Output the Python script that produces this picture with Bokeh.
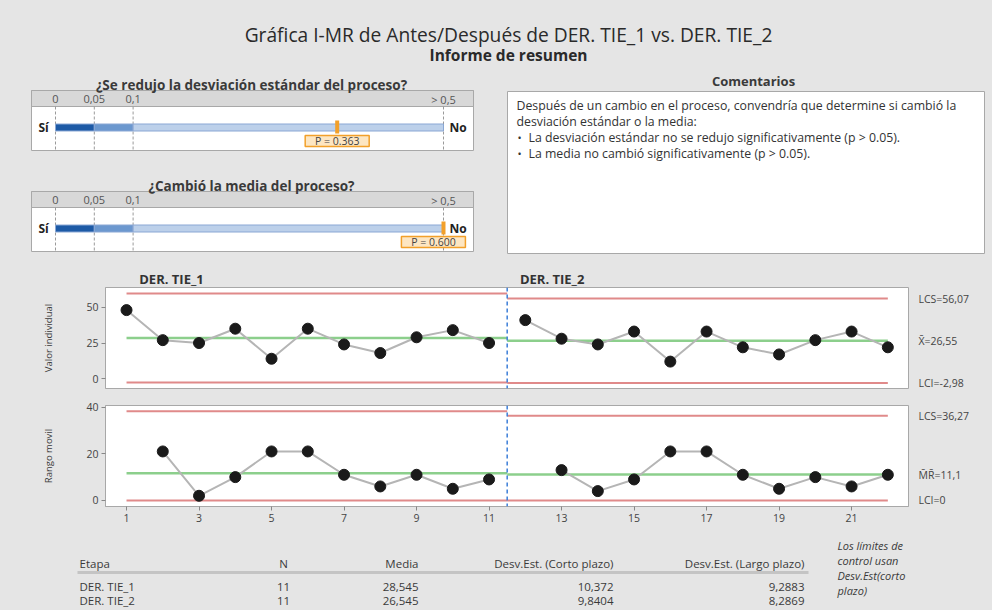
import numpy as np
from bokeh.plotting import figure
from bokeh.models import Range1d, Span, FixedTicker, LinearAxis
from bokeh.layouts import column
from bokeh.embed import file_html
from bokeh.resources import INLINE
from bokeh.core.properties import value

# ---------------- data ----------------
stage_names = ["DER. TIE_1", "DER. TIE_2"]
tie1_values = [48, 27, 25, 35, 14, 35, 24, 18, 29, 34, 25]
tie2_values = [41, 28, 24, 33, 12, 33, 22, 17, 27, 33, 22]
table_n = [11, 11]
table_mean = ["28,545", "26,545"]
table_sd_short = ["10,372", "9,8404"]
table_sd_long = ["9,2883", "8,2869"]
p_std = 0.363
p_mean = 0.600
p_ticks = [0, 0.05, 0.1, 0.5]
p_tick_labels = ["0", "0,05", "0,1", "> 0,5"]
x_ticks = [1, 3, 5, 7, 9, 11, 13, 15, 17, 19, 21]
i_yticks = [0, 25, 50]
mr_yticks = [0, 20, 40]
i_limit_labels = ["LCS=56,07", "X\u0304=26,55", "LCI=-2,98"]
mr_limit_labels = ["LCS=36,27", "M\u0304R\u0304=11,1", "LCI=0"]
comment_lines = [
    "Después de un cambio en el proceso, convendría que determine si cambió la",
    "desviación estándar o la media:",
    "La desviación estándar no se redujo significativamente (p > 0.05).",
    "La media no cambió significativamente (p > 0.05).",
]

# ---------------- style ----------------
W = 992
BG = "#e5e5e5"
FONT = "Open Sans"
TXT = "#3a3a3a"
BOX = "#a8a8a8"
RED = "#e08a8a"
GREEN = "#8ccf8c"
CONN = "#b5b5b5"
BLUE_DIV = "#3b7dd8"
ORANGE = "#f2a02a"
F = value(FONT)


def base_fig(height, x_range, y_range, **kw):
    f = figure(width=W, height=height, x_range=x_range, y_range=y_range,
               output_backend="svg", toolbar_location=None, **kw)
    f.background_fill_color = BG
    f.border_fill_color = BG
    f.outline_line_color = None
    f.grid.grid_line_color = None
    return f


# ---------------- top section (pixel layout) ----------------
TOP_H = 262
top = base_fig(TOP_H, Range1d(0, W), Range1d(TOP_H, 0), x_axis_location=None,
               y_axis_location=None, min_border=0)
P0, PX = 55, 776.0  # pixel of p=0, pixels per unit p
top.extra_x_ranges = {"p": Range1d(-P0 / PX, (W - P0) / PX)}

top.text(x=[508], y=[34], text=["Gráfica I-MR de Antes/Después de DER. TIE_1 vs. DER. TIE_2"],
         text_font=F, text_font_size="19.2px", text_align="center", text_baseline="middle",
         text_color="#2a2a2a")
top.text(x=[508], y=[54], text=["Informe de resumen"], text_font=F, text_font_size="15.5px",
         text_font_style="bold", text_align="center", text_baseline="middle", text_color="#2a2a2a")


def pvalue_panel(T, title, p):
    top.quad(left=[31], right=[473], top=[T + 5], bottom=[T + 65], fill_color="white",
             line_color=BOX, line_width=1)
    top.quad(left=[31], right=[473], top=[T + 5], bottom=[T + 21], fill_color="#d8d8d8",
             line_color=BOX, line_width=1)
    top.text(x=[251], y=[T - 1], text=[title], text_font=F, text_font_size="13.5px",
             text_font_style="bold", text_align="center", text_baseline="middle", text_color=TXT)
    top.segment(x0=p_ticks, x1=p_ticks, y0=[T + 21] * 4, y1=[T + 65] * 4, x_range_name="p",
                line_color="#9a9a9a", line_dash="3 2", line_width=1)
    top.text(x=p_ticks, y=[T + 13.5] * 4, text=p_tick_labels, x_range_name="p", text_font=F,
             text_font_size="11px", text_align="center", text_baseline="middle", text_color="#555555")
    top.quad(left=p_ticks[:-1], right=p_ticks[1:], top=[T + 38.5] * 3, bottom=[T + 45.5] * 3,
             x_range_name="p", fill_color=["#1d5aa6", "#6c98cf", "#bcd0ea"],
             line_color="#8aa7d4", line_width=1)
    pc = min(p, p_ticks[-1])
    top.segment(x0=[pc], x1=[pc], y0=[T + 35], y1=[T + 48], x_range_name="p",
                line_color=ORANGE, line_width=4)
    lc = min(pc, 0.487)
    top.rect(x=[lc], y=[T + 55.5], width=[64 / PX], height=[11], x_range_name="p",
             fill_color="#fde6c2", line_color=ORANGE, line_width=1.5)
    top.text(x=[lc], y=[T + 55.5], text=["P = %.3f" % p], x_range_name="p", text_font=F,
             text_font_size="10.5px", text_align="center", text_baseline="middle", text_color="#444444")
    top.text(x=[38, 449], y=[T + 42, T + 42], text=["Sí", "No"], text_font=F, text_font_size="12px",
             text_font_style="bold", text_align="left", text_baseline="middle", text_color="#222222")


pvalue_panel(85, "¿Se redujo la desviación estándar del proceso?", p_std)
pvalue_panel(186, "¿Cambió la media del proceso?", p_mean)

top.text(x=[753], y=[80], text=["Comentarios"], text_font=F, text_font_size="13px",
         text_font_style="bold", text_align="center", text_baseline="middle", text_color=TXT)
top.quad(left=[507], right=[984], top=[91], bottom=[253], fill_color="white", line_color=BOX)
top.text(x=[516, 516, 528, 528], y=[105, 121, 137, 153], text=comment_lines, text_font=F,
         text_font_size="12.3px", text_align="left", text_baseline="middle", text_color="#333333")
top.text(x=[517, 517], y=[137, 153], text=["•", "•"], text_font=F, text_font_size="11px",
         text_align="left", text_baseline="middle", text_color="#333333")

# ---------------- control charts ----------------
v1 = np.array(tie1_values, dtype=float)
v2 = np.array(tie2_values, dtype=float)
x1 = np.arange(1, len(v1) + 1)
x2 = np.arange(len(v1) + 1, len(v1) + len(v2) + 1)
div = (x1[-1] + x2[0]) / 2.0
stages = [(v1, x1, x1[0], div), (v2, x2, div, x2[-1])]

x_range = Range1d(0.42, 22.57)
BL, BR = 105, 84


def style_chart(f, label):
    f.background_fill_color = "white"
    f.outline_line_color = BOX
    yax = f.yaxis[0]
    yax.axis_label = label
    yax.axis_label_text_font = FONT
    yax.axis_label_text_font_size = "9.5px"
    yax.axis_label_text_font_style = "normal"
    yax.axis_label_text_color = TXT
    yax.axis_label_standoff = 28
    yax.major_label_text_font = FONT
    yax.major_label_text_font_size = "10.5px"
    yax.major_label_text_color = "#444444"
    yax.major_tick_out = 4
    yax.major_tick_in = 0
    yax.minor_tick_line_color = None
    yax.axis_line_color = BOX
    yax.major_tick_line_color = "#888888"
    yax.major_label_standoff = 3


def side_axis(f, ticks, labels):
    ax = LinearAxis(ticker=FixedTicker(ticks=[float(t) for t in ticks]),
                    major_label_overrides={float(t): s for t, s in zip(ticks, labels)})
    ax.axis_line_color = None
    ax.major_tick_line_color = None
    ax.minor_tick_line_color = None
    ax.major_label_standoff = 4
    ax.major_label_text_font = FONT
    ax.major_label_text_font_size = "10.5px"
    ax.major_label_text_color = "#444444"
    f.add_layout(ax, "right")


fi = base_fig(397 - TOP_H, x_range, Range1d(-6.8, 63.8), x_axis_location=None, min_border_left=BL,
              min_border_right=BR, min_border_top=287 - TOP_H, min_border_bottom=9)
style_chart(fi, "Valor individual")
fi.yaxis[0].ticker = FixedTicker(ticks=i_yticks)

fm = base_fig(131, x_range, Range1d(-2.6, 40.7), min_border_left=BL, min_border_right=BR,
              min_border_top=8, min_border_bottom=22)
style_chart(fm, "Rango movil")
fm.yaxis[0].ticker = FixedTicker(ticks=mr_yticks)
xa = fm.xaxis[0]
xa.ticker = FixedTicker(ticks=x_ticks)
xa.major_label_text_font = FONT
xa.major_label_text_font_size = "10.5px"
xa.major_label_text_color = "#444444"
xa.major_tick_out = 4
xa.major_tick_in = 0
xa.minor_tick_line_color = None
xa.axis_line_color = BOX
xa.major_tick_line_color = "#888888"
xa.major_label_standoff = 3

last = None
for vals, xs, xs0, xs1 in stages:
    mr = np.abs(np.diff(vals))
    mrbar = mr.mean()
    sigma = mrbar / 1.128
    mean = vals.mean()
    ucl, lcl = mean + 3 * sigma, mean - 3 * sigma
    mr_ucl = 3.267 * mrbar
    # I chart
    fi.segment(x0=[xs0] * 2, x1=[xs1] * 2, y0=[ucl, lcl], y1=[ucl, lcl], line_color=RED, line_width=2)
    fi.segment(x0=[xs0], x1=[xs1], y0=[mean], y1=[mean], line_color=GREEN, line_width=2.5)
    fi.line(xs, vals, line_color=CONN, line_width=2)
    fi.scatter(xs, vals, size=11, fill_color="#1a1a1a", line_color="#1a1a1a")
    # MR chart
    fm.segment(x0=[xs0] * 2, x1=[xs1] * 2, y0=[mr_ucl, 0], y1=[mr_ucl, 0], line_color=RED, line_width=2)
    fm.segment(x0=[xs0], x1=[xs1], y0=[mrbar], y1=[mrbar], line_color=GREEN, line_width=2.5)
    fm.line(xs[1:], mr, line_color=CONN, line_width=2)
    fm.scatter(xs[1:], mr, size=11, fill_color="#1a1a1a", line_color="#1a1a1a")
    last = (ucl, mean, lcl, mr_ucl, mrbar)

for f in (fi, fm):
    f.add_layout(Span(location=div, dimension="height", line_color=BLUE_DIV, line_dash="4 3",
                      line_width=1.5))

# stage names on a top axis
stage_ticks = [float(x1[0] + 1.24), float(div + 1.24)]
tax = LinearAxis(ticker=FixedTicker(ticks=stage_ticks),
                 major_label_overrides={t: s for t, s in zip(stage_ticks, stage_names)})
tax.axis_line_color = None
tax.major_tick_line_color = None
tax.minor_tick_line_color = None
tax.major_tick_out = 0
tax.major_label_standoff = 0
tax.major_label_text_font = FONT
tax.major_label_text_font_size = "13px"
tax.major_label_text_font_style = "bold"
tax.major_label_text_color = "#333333"
fi.add_layout(tax, "above")

ucl, mean, lcl, mr_ucl, mrbar = last
side_axis(fi, [ucl, mean, lcl], i_limit_labels)
side_axis(fm, [mr_ucl, mrbar, 0.0], mr_limit_labels)

# ---------------- table ----------------
tb = base_fig(82, Range1d(0, W), Range1d(610, 528), x_axis_location=None,
              y_axis_location=None, min_border=0)
hy, r1, r2 = 563, 586, 600
FS = "11.5px"
tb.segment(x0=[77], x1=[808], y0=[hy + 9], y1=[hy + 9], line_color="#c4c4c4", line_width=3)
tb.text(x=[79], y=[hy], text=["Etapa"], text_font=F, text_font_size=FS, text_align="left",
        text_baseline="middle", text_color=TXT)
tb.text(x=[283], y=[hy], text=["N"], text_font=F, text_font_size=FS, text_align="center",
        text_baseline="middle", text_color=TXT)
tb.text(x=[418, 613, 804], y=[hy] * 3,
        text=["Media", "Desv.Est. (Corto plazo)", "Desv.Est. (Largo plazo)"], text_font=F,
        text_font_size=FS, text_align="right", text_baseline="middle", text_color=TXT)
tb.text(x=[79, 79], y=[r1, r2], text=stage_names, text_font=F, text_font_size=FS,
        text_align="left", text_baseline="middle", text_color=TXT)
tb.text(x=[283, 283], y=[r1, r2], text=[str(n) for n in table_n], text_font=F, text_font_size=FS,
        text_align="center", text_baseline="middle", text_color=TXT)
for xr, col in zip((418, 613, 804), (table_mean, table_sd_short, table_sd_long)):
    tb.text(x=[xr, xr], y=[r1, r2], text=col, text_font=F, text_font_size=FS,
            text_align="right", text_baseline="middle", text_color=TXT)
tb.text(x=[837] * 4, y=[545, 560, 575, 590],
        text=["Los límites de", "control usan", "Desv.Est(corto", "plazo)"], text_font=F,
        text_font_size="11px", text_font_style="italic", text_align="left", text_baseline="middle",
        text_color=TXT)

page = column(top, column(fi, fm, spacing=0, styles={"background-color": BG}), tb, spacing=0,
              styles={"background-color": BG})
open("out.html", "w").write(file_html(page, INLINE))
